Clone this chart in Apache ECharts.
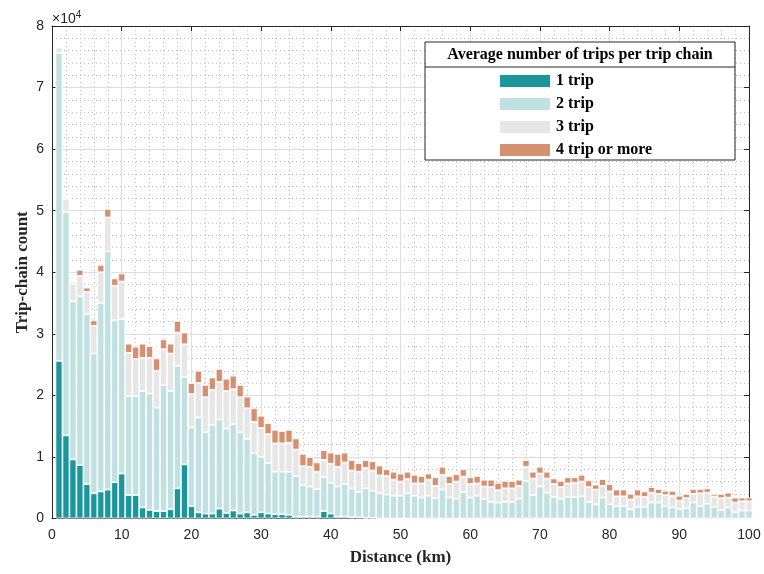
<!DOCTYPE html>
<html>
<head>
<meta charset="utf-8">
<script src="https://cdn.jsdelivr.net/npm/echarts@6/dist/echarts.min.js"></script>
<style>html,body{margin:0;padding:0;background:#fff;}#c{width:764px;height:574px;}</style>
</head>
<body>
<div id="c"></div>
<script>
// Distance bins (km)
const distance = [1,2,3,4,5,6,7,8,9,10,11,12,13,14,15,16,17,18,19,20,
  21,22,23,24,25,26,27,28,29,30,31,32,33,34,35,36,37,38,39,40,
  41,42,43,44,45,46,47,48,49,50,51,52,53,54,55,56,57,58,59,60,
  61,62,63,64,65,66,67,68,69,70,71,72,73,74,75,76,77,78,79,80,
  81,82,83,84,85,86,87,88,89,90,91,92,93,94,95,96,97,98,99,100];

const trip1 = [25600,13500,9600,8700,5600,4100,4400,4700,5900,7300,
  3800,3800,1800,1400,1200,1200,1500,4900,8800,2000,
  1000,800,800,1600,900,1300,800,1000,600,1000,
  800,700,700,600,300,300,300,300,1200,800,
  300,300,200,200,100,100,0,0,0,0,
  0,0,0,0,0,0,0,0,0,0,
  0,0,0,0,0,0,0,0,0,0,
  0,0,0,0,0,0,0,0,0,0,
  0,0,0,0,0,0,0,0,0,0,
  0,0,0,0,0,0,0,0,0,0];

const trip2 = [50000,36300,25700,27400,27600,22700,30600,38700,26300,25100,
  16100,16100,18900,18900,16800,20500,19200,19900,14200,12800,
  15400,13200,14400,14500,13700,14000,13200,11900,10000,9000,
  8200,6900,6900,7000,6600,5100,4900,4500,5500,5000,
  4900,5300,4700,4100,4800,4400,4100,3900,3700,3700,
  4100,3700,3400,3700,3300,4700,3400,3200,4300,3400,
  3700,3200,2700,2600,2700,2700,3200,6100,3800,5200,
  4200,3500,3200,3500,3500,3600,2700,2300,3400,2300,
  2000,2000,1500,1900,1900,2600,2600,2000,1800,1500,
  1700,2600,2000,2400,1900,1400,1800,1000,1300,1300];

const trip3 = [900,2100,2800,3300,3600,4500,5000,5500,5600,6100,
  7000,6000,5400,5800,6000,5800,6100,5400,5300,5400,
  5600,5700,5700,6100,6100,5700,5700,5000,5100,4700,
  4700,4600,4600,4700,4300,3100,3200,2800,2800,3100,
  3200,3500,2900,3300,3300,3300,2900,3000,2600,2300,
  2300,2000,2300,2600,2000,2400,2200,2800,2500,2200,
  2000,2000,2400,2000,2200,2200,2100,2300,2700,2100,
  2300,2100,1900,2200,2300,2400,2400,2400,1900,2100,
  1600,1600,1600,1700,1600,1600,1400,1800,1900,1400,
  1600,1400,2100,1800,1600,1900,1600,1600,1500,1500];

const trip4 = [0,0,300,1000,700,900,1200,1400,1200,1300,
  1500,2000,2300,1900,2000,1600,1600,1900,1900,1800,
  2000,2000,2000,2100,2000,2200,2000,1900,2200,2000,
  1800,2200,2000,2100,1800,2000,1600,1500,1600,1800,
  2100,1600,1700,1400,1300,1500,1600,1100,1300,1300,
  1200,1400,1200,1000,1400,1300,1300,1200,1200,1100,
  1200,1100,1200,1200,1200,1200,1000,1100,1100,1100,
  1100,900,1000,1000,900,1100,1100,800,1100,1200,
  1100,1100,900,1100,900,900,800,700,800,800,
  700,800,700,700,400,700,800,800,600,600];

const seriesNames = ['1 trip','2 trip','3 trip','4 trip or more'];
const yTicks = [0,1,2,3,4,5,6,7,8];
const xTicks = [0,10,20,30,40,50,60,70,80,90,100];

const colors = ['#1b979b','#c1e0e2','#e6e6e6','#d59070'];
const seriesData = [trip1, trip2, trip3, trip4];

// category axis 0..100 (point positions, boundaryGap false) so bar k sits at distance k
const catAxis = [0].concat(distance);

const chart = echarts.init(document.getElementById('c'), null, {renderer:'canvas'});

const labelFont = {fontFamily:'Liberation Sans, Arial, sans-serif', fontSize:14, color:'#262626'};
const axisLineStyle = {color:'#262626', width:1};
const minorStyle = {color:'#c4c4c4', width:1, type:[1,3]};

const option = {
  backgroundColor:'#fff',
  animation:false,
  grid:{left:52, right:15, top:26, bottom:55.5, containLabel:false},
  xAxis:[{
    type:'value', min:0, max:100, interval:10,
    axisLine:{show:true, onZero:false, lineStyle:axisLineStyle},
    axisTick:{show:true, inside:true, length:5, lineStyle:axisLineStyle},
    axisLabel:Object.assign({margin:10, formatter:v=>xTicks.indexOf(v)>=0? String(v):''}, labelFont),
    splitLine:{show:true, lineStyle:{color:'#dedede', width:1}},
    minorTick:{show:false, splitNumber:5},
    minorSplitLine:{show:true, lineStyle:minorStyle},
    name:'Distance (km)', nameLocation:'middle', nameGap:31, nameMoveOverlap:false,
    nameTextStyle:{fontFamily:'Liberation Serif, Times New Roman, serif', fontWeight:'bold', fontSize:17, color:'#262626'}
  },{
    type:'value', position:'top', min:0, max:100, interval:10,
    axisLine:{show:true, onZero:false, lineStyle:axisLineStyle},
    axisTick:{show:true, inside:true, length:5, lineStyle:axisLineStyle},
    axisLabel:{show:false}, splitLine:{show:false}
  },{
    type:'category', data:catAxis, boundaryGap:false, show:false, position:'bottom'
  }],
  yAxis:[{
    type:'value', min:0, max:80000, interval:10000,
    axisLine:{show:true, onZero:false, lineStyle:axisLineStyle},
    axisTick:{show:true, inside:true, length:5, lineStyle:axisLineStyle},
    axisLabel:Object.assign({margin:8, formatter:v=>String(yTicks[Math.round(v/10000)])}, labelFont),
    splitLine:{show:true, lineStyle:{color:'#dedede', width:1}},
    minorTick:{show:false, splitNumber:5},
    minorSplitLine:{show:true, lineStyle:minorStyle},
    name:'Trip-chain count', nameLocation:'middle', nameGap:21, nameMoveOverlap:false,
    nameTextStyle:{fontFamily:'Liberation Serif, Times New Roman, serif', fontWeight:'bold', fontSize:17, color:'#262626'}
  },{
    type:'value', position:'right', min:0, max:80000, interval:10000,
    axisLine:{show:true, onZero:false, lineStyle:axisLineStyle},
    axisTick:{show:true, inside:true, length:5, lineStyle:axisLineStyle},
    axisLabel:{show:false}, splitLine:{show:false}
  }],
  legend:{
    data:seriesNames, orient:'vertical', left:498, top:73, padding:0,
    itemWidth:52, itemHeight:14, itemGap:7, icon:'rect', z:120,
    textStyle:{fontFamily:'Liberation Serif, Times New Roman, serif', fontWeight:'bold', fontSize:16, color:'#000'}
  },
  graphic:{elements:[
    {type:'rect', z:100, shape:{x:425, y:42, width:310, height:118},
     style:{fill:'#fff', stroke:'#262626', lineWidth:1}},
    {type:'line', z:101, shape:{x1:425, y1:67, x2:735, y2:67},
     style:{stroke:'#262626', lineWidth:1}},
    {type:'text', z:101, x:580, y:55,
     style:{text:'Average number of trips per trip chain', align:'center', verticalAlign:'middle',
       font:'bold 16px "Liberation Serif", "Times New Roman", serif', fill:'#000'}},
    {type:'text', z:101, x:52, y:19,
     style:{text:'{a|×10}{b|4}', verticalAlign:'middle',
       rich:{a:{fontFamily:'Liberation Sans, Arial, sans-serif', fontSize:14, fill:'#262626', color:'#262626'},
             b:{fontFamily:'Liberation Sans, Arial, sans-serif', fontSize:10, fill:'#262626', color:'#262626', verticalAlign:'top', padding:[0,0,8,0]}}}}
  ]},
  series: seriesNames.map((name, k) => ({
    name:name, type:'bar', stack:'total', barWidth:7, clip:true,
    xAxisIndex:2, yAxisIndex:0,
    itemStyle:{color:colors[k], borderColor:'#ffffff', borderWidth:0.8},
    emphasis:{disabled:true},
    data: ['-'].concat(seriesData[k])
  }))
};
chart.setOption(option);
</script>
</body>
</html>
